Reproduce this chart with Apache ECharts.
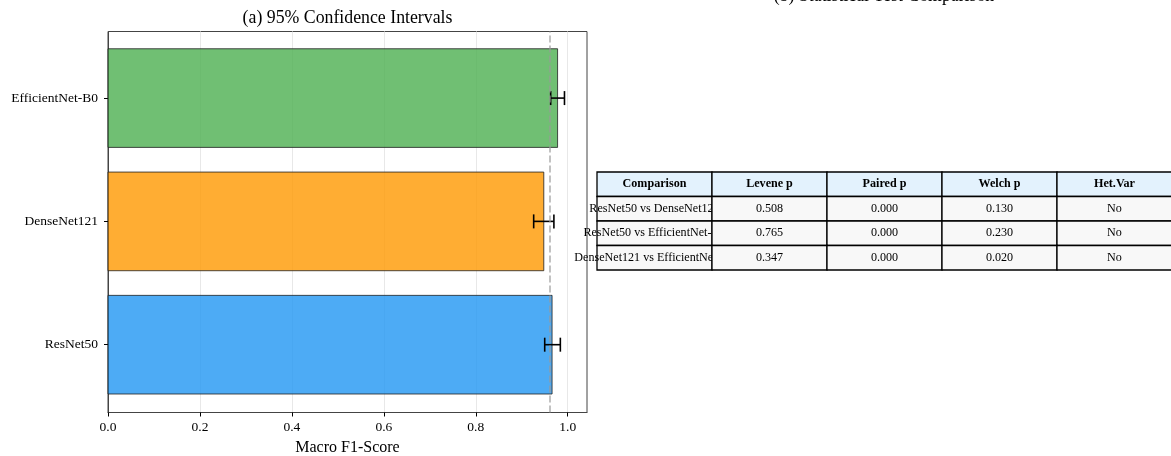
<!DOCTYPE html>
<html>
<head>
<meta charset="utf-8">
<script src="https://cdn.jsdelivr.net/npm/echarts@6/dist/echarts.min.js"></script>
<style>html,body{margin:0;padding:0;background:#fff}#c{width:1171px;height:456px}</style>
</head>
<body>
<div id="c"></div>
<script>
const models = ['ResNet50', 'DenseNet121', 'EfficientNet-B0'];
const meanF1 = [0.966, 0.948, 0.978];
const ciLow = [0.950, 0.926, 0.963];
const ciHigh = [0.984, 0.970, 0.993];
const overallMean = 0.964;
const barColors = ['#2196F3', '#FF9800', '#4CAF50'];
const xTicks = [0, 0.2, 0.4, 0.6, 0.8, 1.0];

const tableHeader = ['Comparison', 'Levene p', 'Paired p', 'Welch p', 'Het.Var'];
const comparisons = ['ResNet50 vs DenseNet121', 'ResNet50 vs EfficientNet-B0', 'DenseNet121 vs EfficientNet-B0'];
const leveneP = ['0.508', '0.765', '0.347'];
const pairedP = ['0.000', '0.000', '0.000'];
const welchP = ['0.130', '0.230', '0.020'];
const hetVar = ['No', 'No', 'No'];

const FONT = '"Liberation Serif", "Times New Roman", serif';

const barData = models.map((m, i) => [i, meanF1[i], ciLow[i], ciHigh[i]]);
const tableRows = [tableHeader].concat(comparisons.map((c, i) => [c, leveneP[i], pairedP[i], welchP[i], hetVar[i]]));
const tableData = [];
tableRows.forEach((row, r) => row.forEach((txt, c) => tableData.push([c, r, txt])));

const chart = echarts.init(document.getElementById('c'), null, {renderer: 'canvas'});
chart.setOption({
  animation: false,
  backgroundColor: '#fff',
  textStyle: {fontFamily: FONT},
  grid: [
    {left: 108, right: 584, top: 31.5, bottom: 43.5, outerBoundsMode: 'none', containLabel: false, show: true, borderColor: '#444', borderWidth: 1, backgroundColor: 'transparent'},
    {left: 597, width: 575, top: 172, height: 98, outerBoundsMode: 'none', containLabel: false, show: false}
  ],
  xAxis: [
    {
      gridIndex: 0, type: 'value', min: 0, max: 1.042,
      name: 'Macro F1-Score', nameLocation: 'middle', nameGap: 26,
      nameTextStyle: {fontFamily: FONT, fontSize: 16, color: '#000'},
      axisLine: {show: true, onZero: false, lineStyle: {color: '#444', width: 1}},
      axisTick: {show: true, length: 4, lineStyle: {color: '#000'}, customValues: xTicks},
      axisLabel: {customValues: xTicks, fontFamily: FONT, fontSize: 13.5, color: '#000', margin: 8,
        formatter: v => v.toFixed(1)},
      splitLine: {show: true, lineStyle: {color: '#e8e8e8', width: 1}}
    },
    {gridIndex: 1, type: 'category', data: tableHeader, show: false, boundaryGap: true}
  ],
  yAxis: [
    {
      gridIndex: 0, type: 'value', min: -0.55, max: 2.54,
      axisLine: {show: true, onZero: false, lineStyle: {color: '#444', width: 1}},
      axisTick: {show: true, length: 4, lineStyle: {color: '#000'}, customValues: [0, 1, 2]},
      axisLabel: {customValues: [0, 1, 2], fontFamily: FONT, fontSize: 13.5, color: '#000', margin: 10,
        formatter: v => models[Math.round(v)]},
      splitLine: {show: false}
    },
    {gridIndex: 1, type: 'category', data: ['h', 'r1', 'r2', 'r3'], inverse: true, show: false, boundaryGap: true}
  ],
  graphic: [
    {type: 'text', x: 347.5, y: 18.5, style: {text: '(a) 95% Confidence Intervals', fontFamily: FONT, fontSize: 17.8, fill: '#000', align: 'center', verticalAlign: 'middle'}},
    {type: 'text', x: 884, y: -3.5, style: {text: '(b) Statistical Test Comparison', fontFamily: FONT, fontSize: 17.8, fill: '#000', align: 'center', verticalAlign: 'middle'}}
  ],
  series: [
    {
      type: 'custom', xAxisIndex: 0, yAxisIndex: 0, clip: false, z: 2,
      data: barData,
      renderItem: (params, api) => {
        const i = api.value(0), v = api.value(1);
        const p0 = api.coord([0, i + 0.4]);
        const p1 = api.coord([v, i - 0.4]);
        return {
          type: 'rect',
          shape: {x: p0[0], y: p0[1], width: p1[0] - p0[0], height: p1[1] - p0[1]},
          style: {fill: barColors[i], opacity: 0.8, stroke: '#222', lineWidth: 1}
        };
      },
      markLine: {
        silent: true, symbol: 'none', label: {show: false},
        lineStyle: {color: '#999', opacity: 0.6, width: 2, type: [7, 3]},
        data: [{xAxis: overallMean}]
      }
    },
    {
      type: 'custom', xAxisIndex: 0, yAxisIndex: 0, clip: false, z: 4,
      data: barData,
      renderItem: (params, api) => {
        const i = api.value(0);
        const a = api.coord([api.value(2), i]);
        const b = api.coord([api.value(3), i]);
        const st = {stroke: '#000', lineWidth: 1.6};
        return {
          type: 'group',
          children: [
            {type: 'line', shape: {x1: a[0], y1: a[1], x2: b[0], y2: b[1]}, style: st},
            {type: 'line', shape: {x1: a[0], y1: a[1] - 7, x2: a[0], y2: a[1] + 7}, style: st},
            {type: 'line', shape: {x1: b[0], y1: b[1] - 7, x2: b[0], y2: b[1] + 7}, style: st}
          ]
        };
      }
    },
    {
      type: 'custom', xAxisIndex: 1, yAxisIndex: 1, clip: false, z: 3,
      data: tableData,
      renderItem: (params, api) => {
        const c = api.value(0), r = api.value(1);
        const txt = tableData[params.dataIndex][2];
        const ctr = api.coord([c, r]);
        const sz = api.size([1, 1]);
        const header = r === 0;
        return {
          type: 'group',
          children: [
            {type: 'rect', shape: {x: ctr[0] - sz[0] / 2, y: ctr[1] - sz[1] / 2, width: sz[0], height: sz[1]},
              style: {fill: header ? '#E3F2FD' : '#F8F8F8', stroke: '#000', lineWidth: 1.3}},
            {type: 'text', x: ctr[0], y: ctr[1],
              style: {text: txt, fontFamily: FONT, fontSize: 12.1, fontWeight: header ? 'bold' : 'normal',
                fill: '#000', align: 'center', verticalAlign: 'middle'}}
          ]
        };
      }
    }
  ]
});
</script>
</body>
</html>
